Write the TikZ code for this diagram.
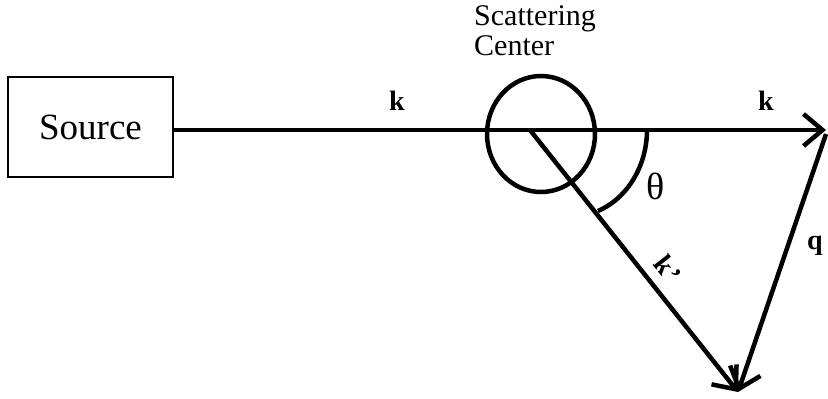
\documentclass[tikz,border=0pt]{standalone}
\usepackage{fontspec}
\setmainfont{Liberation Serif}
\usetikzlibrary{arrows.meta}
\begin{document}
\begin{tikzpicture}[x=1pt,y=-1pt,
  vec/.style={line width=4.5pt,-{Straight Barb[length=19pt,width=32pt,line width=4.5pt]}},
  thick4/.style={line width=4.5pt},
  lbl/.style={inner sep=0pt,font=\fontsize{28}{30}\selectfont\bfseries}]
\useasboundingbox (0,0) rectangle (828,399);
\node[draw,line width=1.5pt,minimum width=165pt,minimum height=100pt,inner sep=0pt,
  font=\fontsize{37}{40}\selectfont] (src) at (90.5,127) {Source};
\coordinate (o) at (530,130);
\coordinate (kend) at (826,130);
\coordinate (kp) at (738,392);
\draw[thick4] (541,134) ellipse [x radius=54, y radius=58];
\draw[vec] (src.east |- o) -- (kend);
\draw[vec] (o) -- (kp);
\draw[vec] (826,134) -- (kp);
\draw[thick4] (647,130) .. controls (647,165) and (628,198) .. (598,211);
\node[align=left,anchor=north west,inner sep=0pt,font=\fontsize{30}{30}\selectfont] (sc) at (474,5) {Scattering\\Center};
\node[lbl] (k1) at (397,101) {k};
\node[lbl] (k2) at (766,101) {k};
\node[lbl] (q) at (815,246) {q};
\node[lbl,rotate=-52] (kpl) at (668,269) {k\kern2pt’};
\node[inner sep=0pt,font=\fontsize{38}{40}\selectfont] (th) at (656,186) {θ};
\end{tikzpicture}
\end{document}
